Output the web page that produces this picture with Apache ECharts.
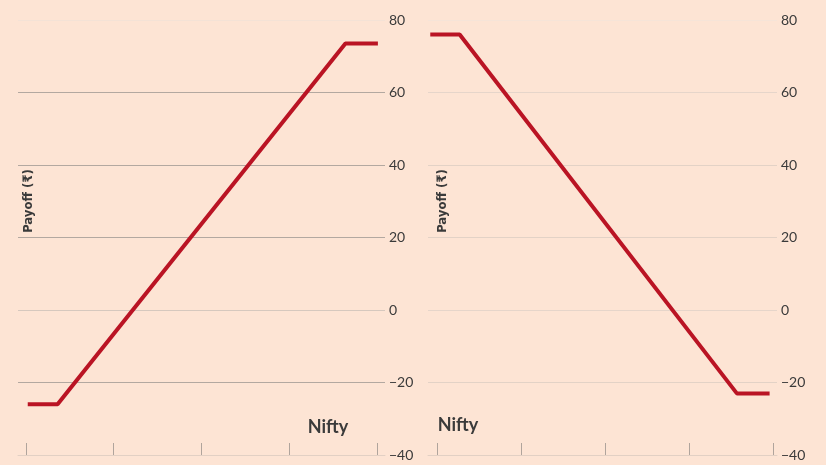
<!DOCTYPE html>
<html>
<head>
<meta charset="utf-8">
<script src="https://cdn.jsdelivr.net/npm/echarts@6/dist/echarts.min.js"></script>
<style>
html,body{margin:0;padding:0;background:#fde4d4;}
#chart{width:826px;height:465px;}
</style>
</head>
<body>
<div id="chart"></div>
<script>
// Data
const yTicks = [-40, -20, 0, 20, 40, 60, 80];
const xTicks = [0, 1, 2, 3, 4];
const leftNifty = [0.02, 0.36, 3.64, 4.01];
const leftPayoff = [-26, -26, 73.5, 73.5];
const rightNifty = [-0.08, 0.27, 3.57, 3.96];
const rightPayoff = [76, 76, -23, -23];
const yAxisTitle = 'Payoff (₹)';
const xAxisTitle = 'Nifty';

const font = 'Lato';
const textColor = '#3a3a3a';
const lineColor = '#ba1424';

function pairs(xs, ys){ return xs.map((x,i)=>[x, ys[i]]); }

function yAxisCfg(gridIndex, gridColors){
  return {
    type:'value', gridIndex, position:'right',
    min:-40, max:80, interval:20,
    axisLine:{show:false}, axisTick:{show:false},
    axisLabel:{color:textColor, fontFamily:font, fontSize:14, margin:4,
      padding:[0,0,8,0],
      formatter:v=> v<0 ? '\u2212'+Math.abs(v) : String(v)},
    splitLine:{show:true, lineStyle:{color:gridColors, width:1}}
  };
}
function xAxisCfg(gridIndex, min, max){
  return {
    type:'value', gridIndex, min, max, position:'bottom',
    axisLine:{show:true, onZero:false, lineStyle:{color:'#e2d0c4', width:1}},
    axisTick:{show:true, inside:true, length:12, customValues:xTicks,
      lineStyle:{color:'#b0a49c', width:1}},
    axisLabel:{show:false},
    splitLine:{show:false}
  };
}

const chart = echarts.init(document.getElementById('chart'));
chart.setOption({
  backgroundColor:'#fde4d4',
  animation:false,
  grid:[
    {left:18, top:20, width:367, height:435},
    {left:428, top:20, width:349, height:435}
  ],
  xAxis:[ xAxisCfg(0, -0.091, 4.091), xAxisCfg(1, -0.107, 4.048) ],
  yAxis:[
    yAxisCfg(0, ['#e6d4c8','#b3a8a0','#d6c8be','#b3a8a0','#b3a8a0','#b3a8a0','#f4e2d6']),
    yAxisCfg(1, ['#e6d4c8','#e3d2c6','#e6d5ca','#e3d2c6','#e3d2c6','#e6d5ca','#f6e4d8'])
  ],
  series:[
    {type:'line', xAxisIndex:0, yAxisIndex:0, data:pairs(leftNifty,leftPayoff),
      showSymbol:false, lineStyle:{color:lineColor, width:4}},
    {type:'line', xAxisIndex:1, yAxisIndex:1, data:pairs(rightNifty,rightPayoff),
      showSymbol:false, lineStyle:{color:lineColor, width:4}}
  ],
  graphic:[
    {type:'text', x:29, y:201, rotation:Math.PI/2, style:{text:yAxisTitle, fill:textColor,
      font:'bold 13px "DejaVu Sans Condensed"', align:'center', verticalAlign:'middle'}},
    {type:'text', x:443, y:201, rotation:Math.PI/2, style:{text:yAxisTitle, fill:textColor,
      font:'bold 13px "DejaVu Sans Condensed"', align:'center', verticalAlign:'middle'}},
    {type:'text', x:328, y:427, style:{text:xAxisTitle, fill:textColor,
      font:'bold 18px Lato', align:'center', verticalAlign:'middle'}},
    {type:'text', x:458, y:425, style:{text:xAxisTitle, fill:textColor,
      font:'bold 18px Lato', align:'center', verticalAlign:'middle'}}
  ]
});
</script>
</body>
</html>
